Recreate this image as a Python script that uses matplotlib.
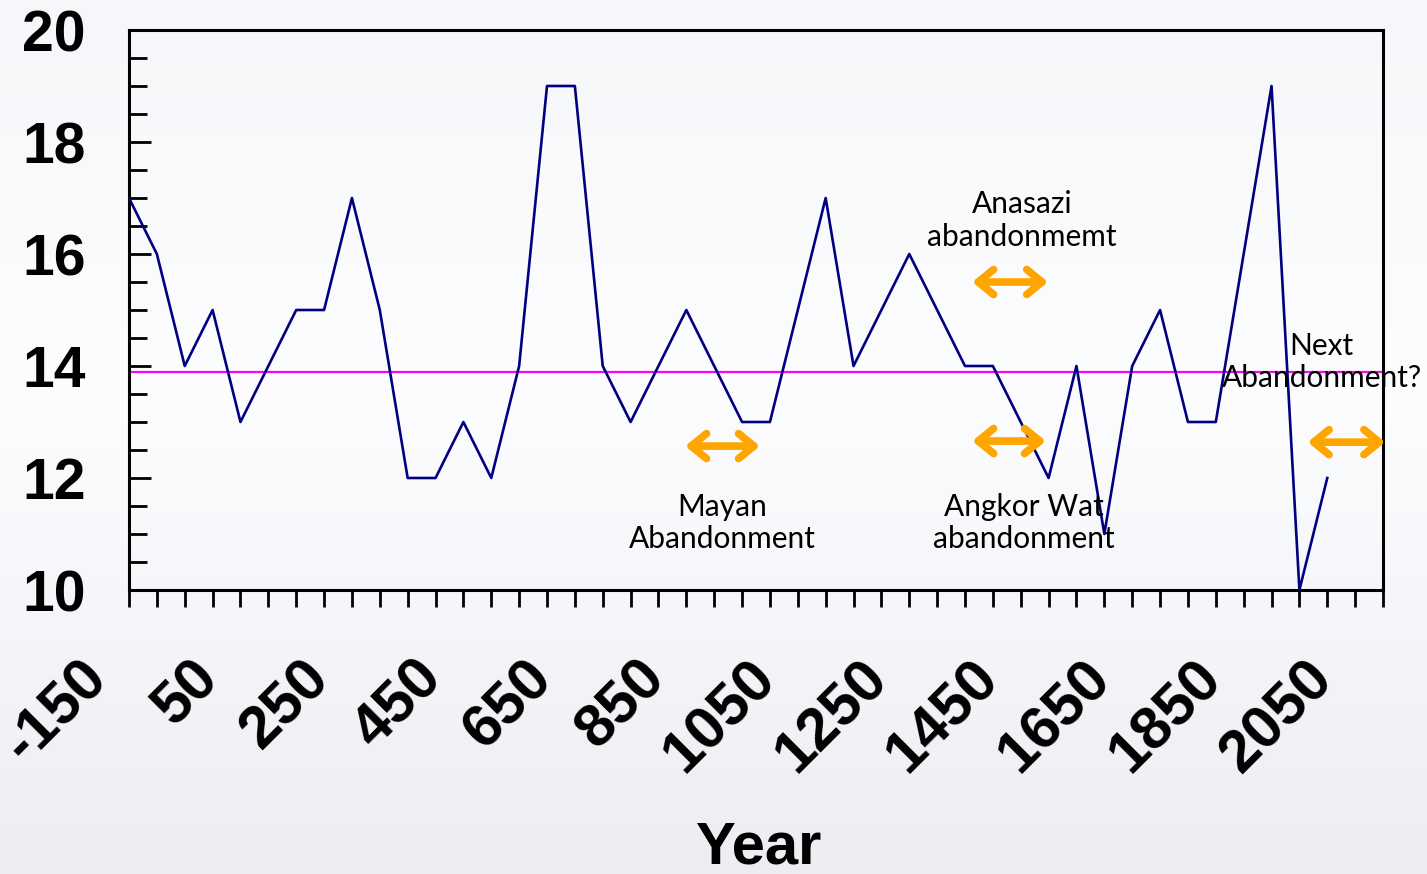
import numpy as np
import matplotlib.pyplot as plt
from matplotlib.ticker import MultipleLocator
from matplotlib.transforms import ScaledTranslation

# temperature-like series, one value every 50 years
years = [-150, -100, -50, 0, 50, 100, 150, 200, 250, 300, 350, 400, 450, 500,
         550, 600, 650, 700, 750, 800, 850, 900, 950, 1000, 1050, 1100, 1150,
         1200, 1250, 1300, 1350, 1400, 1450, 1500, 1550, 1600, 1650, 1700,
         1750, 1800, 1850, 1900, 1950, 2000]
values = [17, 16, 14, 15, 13, 14, 15, 15, 17, 15, 12, 12, 13, 12,
          14, 19, 19, 14, 13, 14, 15, 14, 13, 13, 15, 17, 14,
          15, 16, 15, 14, 14, 13, 12, 14, 11, 14, 15,
          13, 13, 16, 19, 10, 12]
mean_level = 13.9
tick_years = list(range(-150, 2051, 200))

# (label, text x, text y, arrow start, arrow end, arrow y)
events = [
    ("Mayan\nAbandonment", 914, 11.2, 848, 982, 12.57),
    ("Anasazi\nabandonmemt", 1452, 16.6, 1363, 1499, 15.5),
    ("Angkor Wat\nabandonment", 1456, 11.2, 1363, 1495, 12.66),
    ("Next\nAbandonment?", 1990, 14.07, 1965, 2104, 12.64),
]

fig = plt.figure(figsize=(14.27, 8.74), dpi=100)

# soft sky-like backdrop
bg = fig.add_axes([0, 0, 1, 1], zorder=-10)
grad = np.linspace(0, 1, 256)[:, None]
top = np.array([0.965, 0.969, 0.98])
mid = np.array([0.99, 0.992, 0.998])
bot = np.array([0.925, 0.932, 0.95])
rows = np.where(grad < 0.45, top + (mid - top) * (grad / 0.45),
                mid + (bot - mid) * ((grad - 0.45) / 0.55))
img = np.repeat(rows[:, None, :], 2, axis=1).reshape(256, 2, 3)
bg.imshow(img, aspect="auto", extent=[0, 1, 0, 1])
bg.axis("off")

ax = fig.add_axes([129 / 1427, 1 - 590 / 874, 1254 / 1427, 560 / 874])
ax.set_facecolor("none")

ax.plot(years, values, color="#000080", lw=1.9, zorder=3)
ax.axhline(mean_level, color="#ff00ff", lw=1.6, zorder=2)

for label, tx, ty, x0, x1, ay in events:
    ax.annotate("", xy=(x1, ay), xytext=(x0, ay),
                arrowprops=dict(arrowstyle="<->,head_length=0.55,head_width=0.45",
                                color="#ffa500", lw=5.5, capstyle="round",
                                joinstyle="round", shrinkA=0, shrinkB=0,
                                mutation_scale=20),
                annotation_clip=False, zorder=4)
    ax.text(tx, ty, label, ha="center", va="center", fontsize=21.5,
            family="Lato", linespacing=1.2, zorder=5)

ax.set_xlim(-150, 2100)
ax.set_ylim(10, 20)

# x tick marks every 50 years, slanted labels drawn a bit left of their tick
ax.set_xticks(tick_years)
ax.set_xticklabels([])
ax.xaxis.set_minor_locator(MultipleLocator(50))
ax.tick_params(axis="x", which="both", direction="out", length=12, width=2)
lab_trans = ax.get_xaxis_transform() + ScaledTranslation(-0.50, -0.60,
                                                         fig.dpi_scale_trans)
for t in tick_years:
    ax.text(t, 0, str(t), transform=lab_trans, rotation=45, ha="right",
            va="top", rotation_mode="anchor", fontsize=43,
            fontweight="bold", family="Liberation Sans")

ax.yaxis.set_major_locator(MultipleLocator(2))
ax.yaxis.set_minor_locator(MultipleLocator(0.5))
ax.tick_params(axis="y", which="major", direction="in", length=16, width=2,
               pad=31)
ax.tick_params(axis="y", which="minor", direction="in", length=13, width=2)
for lab in ax.get_yticklabels():
    lab.set_fontsize(41)
    lab.set_fontweight("bold")
    lab.set_family("Liberation Sans")

for sp in ax.spines.values():
    sp.set_linewidth(2.2)

fig.text(758 / 1427, 1 - 848 / 874, "Year", ha="center", va="center",
         fontsize=43, fontweight="bold", family="Liberation Sans")

fig.savefig("out.png", dpi=100)
